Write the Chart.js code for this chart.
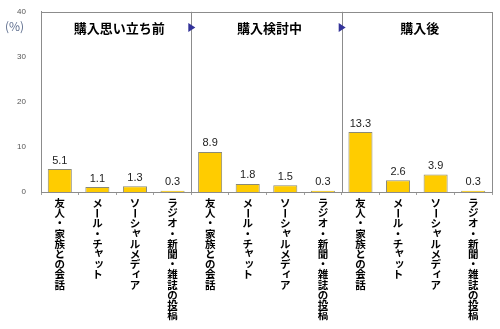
<!DOCTYPE html>
<html lang="ja">
<head>
<meta charset="utf-8">
<script src="https://cdn.jsdelivr.net/npm/chart.js@4/dist/chart.umd.min.js"></script>
<style>
  html, body { margin: 0; padding: 0; background: #fff; }
  #wrap { width: 500px; height: 329px; position: relative; }
</style>
</head>
<body>
<div id="wrap"><canvas id="chart"></canvas></div>
<script>
// 情報源のカテゴリ（各段階で共通）
const sources = ['友人・家族との会話', 'メール・チャット', 'ソーシャルメディア', 'ラジオ・新聞・雑誌の投稿'];
// 購買プロセスの段階
const stages = ['購入思い立ち前', '購入検討中', '購入後'];
// 各段階の値 (%)
const beforeValues = [5.1, 1.1, 1.3, 0.3];
const duringValues = [8.9, 1.8, 1.5, 0.3];
const afterValues = [13.3, 2.6, 3.9, 0.3];
const yTicks = [0, 10, 20, 30, 40];

const labels = [...sources, ...sources, ...sources];
const values = [...beforeValues, ...duringValues, ...afterValues];

const JP_FONT = '"Noto Sans CJK JP", "Noto Sans", sans-serif';
const SMALL_KANA = 'ャュョッィァゥェォ';

// 縦書きラベル、区切り線、段階見出し、値ラベル
const decorations = {
    id: 'decorations',
    afterDraw(chart) {
        const ctx = chart.ctx;
        const area = chart.chartArea;
        const x = chart.scales.x;
        const y = chart.scales.y;
        ctx.save();

        // 枠線
        ctx.strokeStyle = '#8c8c8c';
        ctx.lineWidth = 1;
        ctx.strokeRect(Math.round(area.left) + 0.5, Math.round(area.top) + 0.5,
            Math.round(area.right - area.left), Math.round(area.bottom - area.top));

        // 段階ごとの区切り線と矢印
        const per = sources.length;
        const bounds = [area.left];
        for (let s = 1; s < stages.length; s++) {
            const bx = (x.getPixelForTick(s * per - 1) + x.getPixelForTick(s * per)) / 2;
            bounds.push(bx);
            ctx.beginPath();
            ctx.moveTo(Math.round(bx) + 0.5, area.top);
            ctx.lineTo(Math.round(bx) + 0.5, area.bottom);
            ctx.stroke();
        }
        bounds.push(area.right);

        const headY = y.getPixelForValue(36.5);
        ctx.fillStyle = '#333399';
        for (let s = 1; s < stages.length; s++) {
            const bx = bounds[s];
            ctx.beginPath();
            ctx.moveTo(bx - 3, headY - 4.5);
            ctx.lineTo(bx + 4, headY);
            ctx.lineTo(bx - 3, headY + 4.5);
            ctx.closePath();
            ctx.fill();
        }

        // 段階見出し
        ctx.fillStyle = '#000';
        ctx.font = 'bold 13px ' + JP_FONT;
        ctx.textAlign = 'center';
        ctx.textBaseline = 'middle';
        stages.forEach((name, s) => {
            ctx.fillText(name, (bounds[s] + bounds[s + 1]) / 2 + 3, headY);
        });

        // 単位
        ctx.fillStyle = '#5f6f8f';
        ctx.font = '12px ' + JP_FONT;
        ctx.textAlign = 'left';
        ctx.fillText('(%)', area.left - 36, y.getPixelForValue(36.7));

        // 値ラベル
        const meta = chart.getDatasetMeta(0);
        ctx.fillStyle = '#222';
        ctx.font = '11px "Liberation Sans", Arial, sans-serif';
        ctx.textAlign = 'center';
        ctx.textBaseline = 'bottom';
        meta.data.forEach((bar, i) => {
            ctx.fillText(values[i].toFixed(1), bar.x, bar.y - 3);
        });

        // 縦書きのカテゴリラベル
        ctx.fillStyle = '#000';
        ctx.font = 'bold 10.5px ' + JP_FONT;
        ctx.textBaseline = 'middle';
        const step = 10.2;
        labels.forEach((text, i) => {
            const cx = x.getPixelForTick(i);
            let cy = area.bottom + 11;
            for (const ch of text) {
                if (ch === 'ー') {
                    ctx.save();
                    ctx.translate(cx, cy);
                    ctx.rotate(Math.PI / 2);
                    ctx.fillText(ch, 0, 0);
                    ctx.restore();
                } else if (SMALL_KANA.includes(ch)) {
                    ctx.fillText(ch, cx + 1.5, cy - 1.5);
                } else {
                    ctx.fillText(ch, cx, cy);
                }
                cy += step;
            }
        });
        ctx.restore();
    }
};

new Chart(document.getElementById('chart'), {
    type: 'bar',
    data: {
        labels: labels,
        datasets: [{
            data: values,
            backgroundColor: '#ffcc00',
            borderColor: '#8a8a78',
            borderWidth: 1,
            borderSkipped: 'bottom',
            barPercentage: 0.64,
            categoryPercentage: 1.0
        }]
    },
    options: {
        responsive: true,
        maintainAspectRatio: false,
        animation: false,
        layout: { padding: { left: 0, right: 8, top: 11, bottom: 0 } },
        plugins: {
            legend: { display: false },
            tooltip: { enabled: false }
        },
        scales: {
            x: {
                offset: true,
                grid: {
                    display: true,
                    offset: true,
                    drawOnChartArea: false,
                    tickLength: 3,
                    color: '#a0a0a0'
                },
                border: { display: true, color: '#8c8c8c' },
                ticks: { display: false },
                afterFit(scale) { scale.height = 137; }
            },
            y: {
                min: 0,
                max: 40,
                afterBuildTicks(scale) {
                    scale.ticks = yTicks.map(v => ({ value: v }));
                },
                grid: { display: false },
                border: { display: true, color: '#8c8c8c' },
                ticks: {
                    padding: 7,
                    color: '#555',
                    font: { size: 8, family: '"Liberation Sans", Arial, sans-serif' }
                },
                afterFit(scale) { scale.width = 41; }
            }
        }
    },
    plugins: [decorations]
});
</script>
</body>
</html>
